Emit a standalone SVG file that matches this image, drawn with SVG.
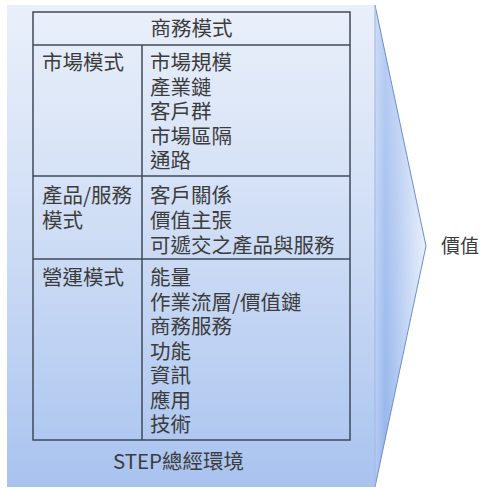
<svg xmlns="http://www.w3.org/2000/svg" width="480" height="489" viewBox="0 0 480 489">
<defs>
<linearGradient id="gBody" x1="0" y1="0" x2="0" y2="1">
<stop offset="0" stop-color="#eaf0fa"/>
<stop offset="0.5" stop-color="#cddcf5"/>
<stop offset="1" stop-color="#a9c3ef"/>
</linearGradient>
<linearGradient id="gSide" x1="375" y1="0" x2="426" y2="0" gradientUnits="userSpaceOnUse">
<stop offset="0" stop-color="#b5cbf2"/>
<stop offset="0.2" stop-color="#94b4ec"/>
<stop offset="1" stop-color="#e4ecfa"/>
</linearGradient>
<linearGradient id="gSideV" x1="0" y1="0" x2="0" y2="1">
<stop offset="0" stop-color="#ffffff" stop-opacity="0.35"/>
<stop offset="1" stop-color="#ffffff" stop-opacity="0"/>
</linearGradient>
</defs>
<style>
text{font-family:"Noto Sans CJK TC","Noto Sans CJK SC",sans-serif;font-size:20.5px;fill:#3c3c3c}
.c{text-anchor:middle}
.grid{fill:none;stroke:#3f4a5a;stroke-width:1.5}
</style>
<g id="background">
<rect x="7" y="5" width="368" height="482" fill="url(#gBody)"/>
<polygon points="375,5 426,246 375,487" fill="url(#gSide)"/>
<polygon points="375,5 426,246 375,487" fill="url(#gSideV)"/>
<polyline points="375,5 426,246 375,487" fill="none" stroke="#6d8fca" stroke-width="1"/>
<line x1="375" y1="5" x2="375" y2="487" stroke="#9fb7e4" stroke-width="1"/>
</g>
<g id="table">
<rect class="grid" x="33" y="12" width="317" height="428"/>
<line class="grid" x1="33" y1="45" x2="350" y2="45"/>
<line class="grid" x1="33" y1="176" x2="350" y2="176"/>
<line class="grid" x1="33" y1="259" x2="350" y2="259"/>
<line class="grid" x1="142" y1="45" x2="142" y2="440"/>
</g>
<g id="header"><text class="c" x="191.5" y="36">商務模式</text></g>
<g id="market">
<text x="42" y="70">市場模式</text>
<text x="150" y="70"><tspan x="150" y="70">市場規模</tspan><tspan x="150" y="94.5">產業鏈</tspan><tspan x="150" y="119">客戶群</tspan><tspan x="150" y="143.5">市場區隔</tspan><tspan x="150" y="168">通路</tspan></text>
</g>
<g id="product">
<text x="42" y="203"><tspan x="42" y="203">產品/服務</tspan><tspan x="42" y="228">模式</tspan></text>
<text x="150" y="203"><tspan x="150" y="203">客戶關係</tspan><tspan x="150" y="228">價值主張</tspan><tspan x="150" y="253">可遞交之產品與服務</tspan></text>
</g>
<g id="operation">
<text x="42" y="285">營運模式</text>
<text x="150" y="285"><tspan x="150" y="285">能量</tspan><tspan x="150" y="309.5">作業流層/價值鏈</tspan><tspan x="150" y="334">商務服務</tspan><tspan x="150" y="358.5">功能</tspan><tspan x="150" y="383">資訊</tspan><tspan x="150" y="407.5">應用</tspan><tspan x="150" y="432">技術</tspan></text>
</g>
<g id="step"><text x="113" y="469">STEP總經環境</text></g>
<g id="value"><text x="441" y="253" style="font-size:19px">價值</text></g>
</svg>
